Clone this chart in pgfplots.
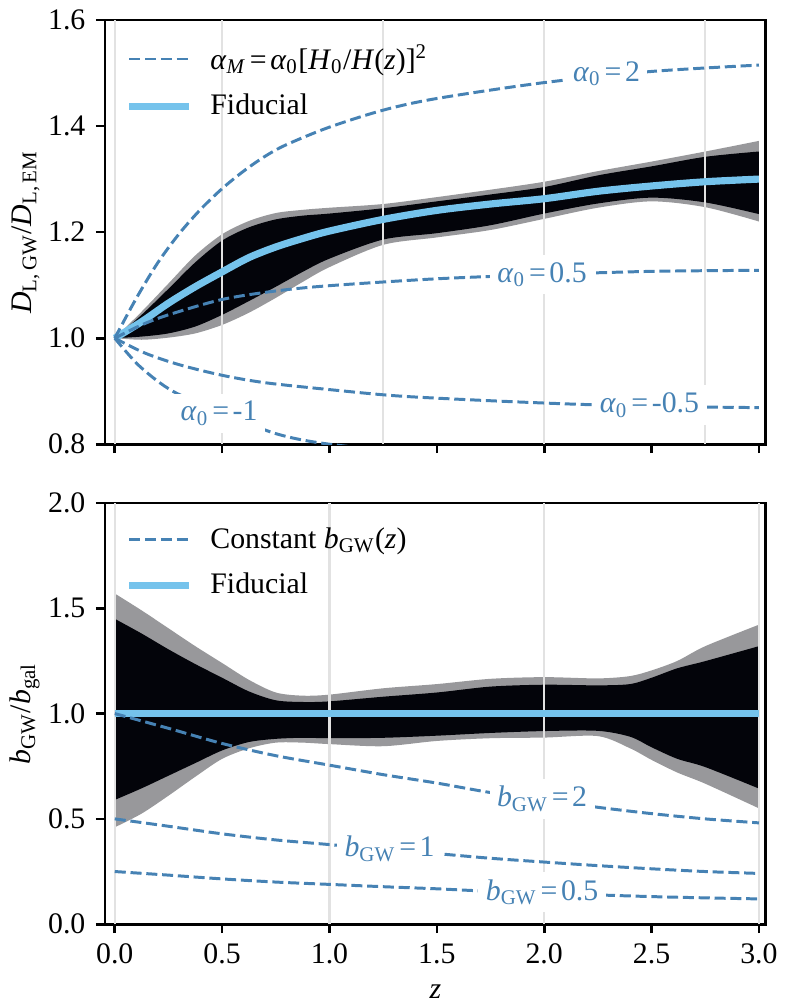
\documentclass[border=0pt,10pt]{standalone}
\usepackage{fontspec}
\setmainfont{Liberation Serif}
\usepackage{pgfplots}
\pgfplotsset{compat=1.18}
\usepgfplotslibrary{fillbetween}

\definecolor{steel}{RGB}{70,130,180}
\definecolor{fid}{RGB}{117,195,236}
\definecolor{band2}{RGB}{152,152,155}
\definecolor{band1}{RGB}{3,4,10}
\definecolor{vgrid}{RGB}{226,226,226}

\newcommand{\azero}{\textit{α}\textsubscript{0}}
\newcommand{\eq}{\hspace{0.12em}=\hspace{0.12em}}
\newcommand{\bgw}{\textit{b}\textsubscript{GW}}

% top panel: z, 95% up, 68% up, fiducial, 68% low, 95% low
\pgfplotstableread{
z     gu    bu    fid   bl    gl
0.0   1.000 1.000 1.000 1.000 1.000
0.125 1.050 1.044 1.031 1.003 0.997
0.25  1.103 1.093 1.066 1.009 1.001
0.375 1.156 1.143 1.097 1.022 1.009
0.5   1.196 1.184 1.125 1.044 1.025
0.625 1.221 1.209 1.152 1.070 1.048
0.75  1.236 1.224 1.172 1.097 1.076
0.875 1.242 1.231 1.188 1.125 1.106
1.0   1.246 1.235 1.202 1.150 1.134
1.25  1.253 1.245 1.224 1.186 1.176
1.5   1.266 1.258 1.241 1.198 1.190
1.75  1.280 1.271 1.253 1.213 1.204
2.0   1.295 1.285 1.263 1.235 1.225
2.25  1.315 1.307 1.277 1.254 1.246
2.5   1.333 1.324 1.287 1.265 1.258
2.75  1.352 1.342 1.295 1.256 1.247
3.0   1.372 1.352 1.300 1.234 1.220
}\dltable

% bottom panel bands
\pgfplotstableread{
z     gu    bu    bl    gl
0.0   1.570 1.450 0.590 0.460
0.125 1.490 1.380 0.645 0.525
0.25  1.405 1.305 0.705 0.610
0.375 1.320 1.235 0.765 0.700
0.5   1.240 1.170 0.825 0.785
0.625 1.160 1.105 0.865 0.835
0.75  1.100 1.063 0.880 0.862
0.875 1.085 1.055 0.885 0.862
1.0   1.090 1.058 0.883 0.855
1.25  1.120 1.080 0.885 0.845
1.5   1.140 1.100 0.895 0.870
1.75  1.165 1.128 0.908 0.883
2.0   1.173 1.137 0.917 0.886
2.25  1.167 1.134 0.918 0.893
2.4   1.178 1.140 0.890 0.835
2.5   1.205 1.170 0.840 0.780
2.62  1.250 1.215 0.785 0.720
2.75  1.320 1.249 0.746 0.667
3.0   1.422 1.320 0.644 0.550
}\bgtable

% constant b_GW curves
\pgfplotstableread{
z     two    one    half
0.0   1.000  0.500  0.250
0.25  0.930  0.465  0.233
0.5   0.858  0.429  0.215
0.75  0.800  0.400  0.200
1.0   0.755  0.378  0.189
1.25  0.710  0.355  0.178
1.5   0.670  0.335  0.168
1.75  0.625  0.313  0.156
2.0   0.590  0.295  0.148
2.25  0.555  0.278  0.139
2.5   0.525  0.263  0.131
2.75  0.500  0.250  0.125
3.0   0.481  0.241  0.120
}\bwtable

\tikzset{
  dsh/.style={steel, line width=1pt, dash pattern=on 3.7pt off 1.6pt},
  lab/.style={fill=white, text=steel, inner sep=2.5pt},
}
\pgfplotsset{
  panel/.style={
    scale only axis, width=221.7pt, height=142.3pt,
    xmin=-0.046, xmax=3.032,
    tick pos=left, tick align=outside,
    major tick length=3pt,
    axis line style={line width=0.9pt},
    every tick/.style={black, line width=0.9pt},
    xtick={0,0.5,...,3},
    ylabel shift=-4pt,
    /pgf/number format/assume math mode=true,
    /pgf/number format/fixed, /pgf/number format/fixed zerofill,
    /pgf/number format/precision=1,
    legend cell align=left,
    legend style={draw=none, fill=none, at={(0,1)}, anchor=north west,
      xshift=3.8pt, yshift=-4pt, row sep=2.8pt},
    legend image code/.code={\draw[#1] (0pt,0pt) -- (20pt,0pt); \path (24pt,0pt);},
  },
}

\begin{document}
\begin{tikzpicture}
\begin{axis}[panel, name=top, at={(0pt,0pt)}, anchor=south west,
  ymin=0.8, ymax=1.6, ytick={0.8,1.0,...,1.6},
  xticklabels={},
  ylabel={\textit{D}\textsubscript{L,\,GW}/\textit{D}\textsubscript{L,\,EM}},
]
\addlegendimage{dsh}
\addlegendentry{\textit{α}\textsubscript{\textit{M}}\eq\azero[\textit{H}\textsubscript{0}/\textit{H}(\textit{z})]\textsuperscript{2}}
\addlegendimage{fid, line width=2.4pt}
\addlegendentry{Fiducial}

\pgfplotsinvokeforeach{0,0.5,1.25,2,2.75}{
  \addplot[vgrid, line width=0.8pt, forget plot] coordinates {(#1,0.8) (#1,1.6)};
}

\addplot[name path=tgu, draw=none, smooth, forget plot] table[x=z, y=gu] {\dltable};
\addplot[name path=tgl, draw=none, smooth, forget plot] table[x=z, y=gl] {\dltable};
\addplot[band2, forget plot] fill between[of=tgu and tgl];
\addplot[name path=tbu, draw=none, smooth, forget plot] table[x=z, y=bu] {\dltable};
\addplot[name path=tbl, draw=none, smooth, forget plot] table[x=z, y=bl] {\dltable};
\addplot[band1, forget plot] fill between[of=tbu and tbl];

\addplot[fid, line width=2.4pt, smooth, forget plot] table[x=z, y=fid] {\dltable};

% alpha_0 = 2
\addplot[dsh, smooth, forget plot] coordinates {
(0,1.0) (0.1,1.075) (0.2,1.142) (0.3,1.197) (0.4,1.243) (0.5,1.282)
(0.6,1.315) (0.7,1.343) (0.8,1.365) (1.0,1.398) (1.25,1.430) (1.5,1.452)
(2.0,1.482) (2.5,1.503) (3.0,1.515)};
% alpha_0 = 0.5
\addplot[dsh, smooth, forget plot] coordinates {
(0,1.0) (0.125,1.025) (0.25,1.044) (0.5,1.073) (0.75,1.089) (1.0,1.099)
(1.5,1.112) (2.0,1.120) (2.5,1.126) (3.0,1.128)};
% alpha_0 = -0.5
\addplot[dsh, smooth, forget plot] coordinates {
(0,1.0) (0.14,0.972) (0.3,0.950) (0.5,0.930) (0.7,0.916) (1.0,0.903)
(1.32,0.891) (1.75,0.882) (2.18,0.875) (2.6,0.871) (3.0,0.869)};
% alpha_0 = -1
\addplot[dsh, smooth, forget plot] coordinates {
(0,1.0) (0.116,0.947) (0.27,0.900) (0.5,0.860) (0.75,0.820) (1.0,0.800)
(1.5,0.780) (2.0,0.767) (2.5,0.760) (3.0,0.755)};

\node[lab] at (axis cs:2.29,1.499) {\azero\eq2};
\node[lab] at (axis cs:1.99,1.120) {\azero\eq0.5};
\node[lab] at (axis cs:2.49,0.874) {\azero\eq-0.5};
\node[lab] at (axis cs:0.486,0.858) {\azero\eq-1};
\end{axis}

\begin{axis}[panel, at={(0pt,-19.7pt)}, anchor=north west,
  height=141.3pt,
  ymin=0, ymax=2, ytick={0,0.5,...,2},
  xlabel={\textit{z}},
  ylabel={\textit{b}\textsubscript{GW}/\textit{b}\textsubscript{gal}},
]
\addlegendimage{dsh}
\addlegendentry{Constant \bgw(\textit{z})}
\addlegendimage{fid, line width=2.4pt}
\addlegendentry{Fiducial}

\pgfplotsinvokeforeach{0,1,2,3}{
  \addplot[vgrid, line width=0.8pt, forget plot] coordinates {(#1,0) (#1,2)};
}

\addplot[name path=bgu, draw=none, smooth, forget plot] table[x=z, y=gu] {\bgtable};
\addplot[name path=bgl, draw=none, smooth, forget plot] table[x=z, y=gl] {\bgtable};
\addplot[band2, forget plot] fill between[of=bgu and bgl];
\addplot[name path=bbu, draw=none, smooth, forget plot] table[x=z, y=bu] {\bgtable};
\addplot[name path=bbl, draw=none, smooth, forget plot] table[x=z, y=bl] {\bgtable};
\addplot[band1, forget plot] fill between[of=bbu and bbl];

\addplot[fid, line width=2.4pt, forget plot] coordinates {(0,1) (3,1)};

\addplot[dsh, smooth, forget plot] table[x=z, y=two] {\bwtable};
\addplot[dsh, smooth, forget plot] table[x=z, y=one] {\bwtable};
\addplot[dsh, smooth, forget plot] table[x=z, y=half] {\bwtable};

\node[lab] at (axis cs:1.99,0.595) {\bgw\eq2};
\node[lab] at (axis cs:1.28,0.357) {\bgw\eq1};
\node[lab] at (axis cs:1.99,0.152) {\bgw\eq0.5};
\end{axis}
\end{tikzpicture}
\end{document}
